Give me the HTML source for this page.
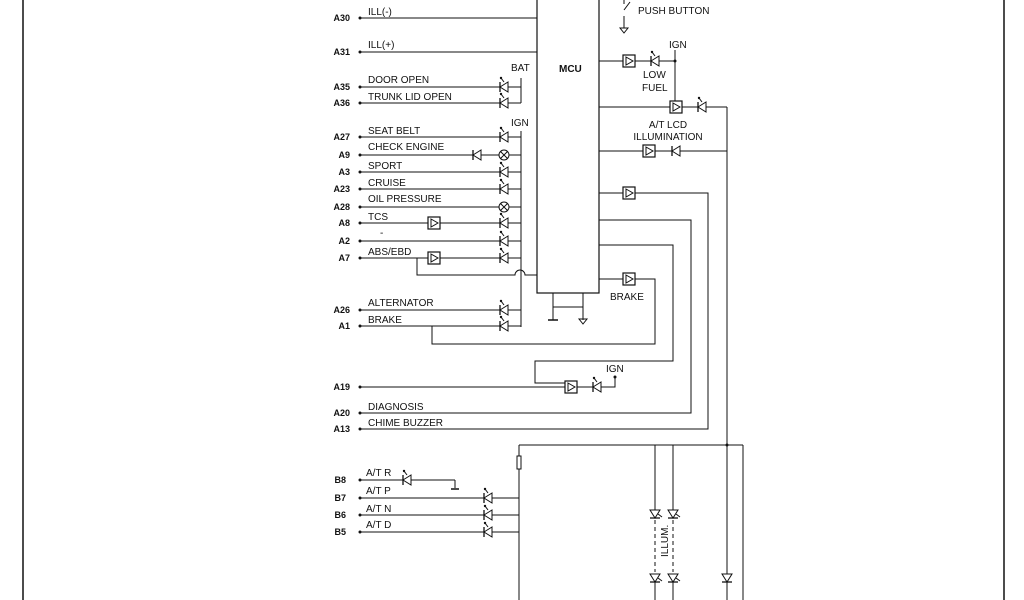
<!DOCTYPE html>
<html><head><meta charset="utf-8"><style>
html,body{margin:0;padding:0;background:#fff;width:1024px;height:600px;overflow:hidden}
svg{display:block}
text{font-family:"Liberation Sans",Arial,sans-serif;fill:#111}
.p{font-size:9px;font-weight:bold}
.l{font-size:10px}
</style></head><body>
<svg width="1024" height="600" viewBox="0 0 1024 600" xmlns="http://www.w3.org/2000/svg">
<defs>
<g id="led"><path d="M-4,0 L4,-5 L4,5 Z" fill="#fff" stroke="#111" stroke-width="1"/><line x1="-4" y1="-5" x2="-4" y2="5" stroke="#111" stroke-width="1.3"/><line x1="0" y1="-5" x2="-3" y2="-9" stroke="#111"/><circle cx="-3" cy="-9" r="1.2" fill="#111"/></g>
<g id="dio"><path d="M-4,0 L4,-5 L4,5 Z" fill="#fff" stroke="#111" stroke-width="1"/><line x1="-4" y1="-5" x2="-4" y2="5" stroke="#111" stroke-width="1.3"/></g>
<g id="amp"><rect x="-6" y="-6" width="12" height="12" fill="#fff" stroke="#111" stroke-width="1.2"/><path d="M-3,-4 L4,0 L-3,4 Z" fill="none" stroke="#111"/></g>
<g id="lamp"><circle r="5" fill="#fff" stroke="#111"/><line x1="-3.5" y1="-3.5" x2="3.5" y2="3.5" stroke="#111"/><line x1="-3.5" y1="3.5" x2="3.5" y2="-3.5" stroke="#111"/></g>
<g id="vled"><path d="M0,4 L-5,-4 L5,-4 Z" fill="#fff" stroke="#111"/><line x1="-5" y1="4" x2="5" y2="4" stroke="#111" stroke-width="1.3"/><line x1="3" y1="0" x2="7" y2="3" stroke="#111"/></g>
</defs>
<g stroke="#111" stroke-width="1" fill="none">
<line x1="23" y1="0" x2="23" y2="600" stroke-width="1.5"/>
<line x1="1004" y1="0" x2="1004" y2="600" stroke-width="1.5"/>
<!-- MCU -->
<rect x="537" y="-2" width="62" height="295" stroke-width="1.2"/>
<line x1="553" y1="293" x2="553" y2="320"/><line x1="583" y1="293" x2="583" y2="320"/>
<line x1="553" y1="307" x2="583" y2="307"/>
<line x1="548" y1="320" x2="558" y2="320" stroke-width="1.5"/>
<path d="M579,319 L587,319 L583,324 Z"/>
<!-- left lines -->
<line x1="360" y1="18" x2="537" y2="18"/>
<line x1="360" y1="52" x2="537" y2="52"/>
<line x1="360" y1="87" x2="521" y2="87"/><line x1="360" y1="103" x2="521" y2="103"/>
<line x1="521" y1="78" x2="521" y2="103"/>
<line x1="521" y1="131" x2="521" y2="327"/>
<line x1="360" y1="137" x2="521" y2="137"/>
<line x1="360" y1="155" x2="521" y2="155"/>
<line x1="360" y1="172" x2="521" y2="172"/>
<line x1="360" y1="189" x2="521" y2="189"/>
<line x1="360" y1="207" x2="521" y2="207"/>
<line x1="360" y1="223" x2="521" y2="223"/>
<line x1="360" y1="241" x2="521" y2="241"/>
<line x1="360" y1="258" x2="521" y2="258"/>
<path d="M417,258 L417,275 L515,275 A5,5 0 0 1 525,275 L537,275"/>
<line x1="360" y1="310" x2="521" y2="310"/>
<line x1="360" y1="326" x2="521" y2="326"/>
<path d="M432,326 L432,344 L655,344 L655,279 L599,279"/>
<line x1="360" y1="387" x2="604" y2="387"/>
<path d="M604,387 L615,387 L615,377"/>
<path d="M599,245 L673,245 L673,361 L535,361 L535,383 L565,383"/>
<path d="M360,413 L691,413 L691,220 L599,220"/>
<path d="M360,429 L708,429 L708,193 L599,193"/>
<!-- right top -->
<line x1="624" y1="0" x2="624" y2="4"/><line x1="624" y1="10" x2="630" y2="2"/><line x1="624" y1="16" x2="624" y2="28"/>
<path d="M620,28 L628,28 L624,33 Z"/>
<line x1="599" y1="61" x2="675" y2="61"/>
<line x1="675" y1="50" x2="675" y2="107"/>
<line x1="599" y1="107" x2="727" y2="107"/>
<line x1="727" y1="107" x2="727" y2="600"/>
<line x1="599" y1="151" x2="727" y2="151"/>
<!-- bottom -->
<line x1="519" y1="445" x2="743" y2="445"/>
<line x1="519" y1="445" x2="519" y2="600"/>
<rect x="517" y="456" width="4" height="13" fill="#fff"/>
<line x1="743" y1="445" x2="743" y2="600"/>
<line x1="655" y1="445" x2="655" y2="510"/><line x1="673" y1="445" x2="673" y2="510"/>
<line x1="655" y1="520" x2="655" y2="572" stroke-dasharray="4,3"/><line x1="673" y1="520" x2="673" y2="572" stroke-dasharray="4,3"/>
<line x1="655" y1="582" x2="655" y2="600"/><line x1="673" y1="582" x2="673" y2="600"/>
<line x1="360" y1="480" x2="455" y2="480"/><line x1="455" y1="480" x2="455" y2="488"/><line x1="451" y1="489" x2="459" y2="489" stroke-width="1.5"/>
<line x1="360" y1="498" x2="519" y2="498"/>
<line x1="360" y1="515" x2="519" y2="515"/>
<line x1="360" y1="532" x2="519" y2="532"/>
</g>
<g fill="#111">
<circle cx="360" cy="18" r="1.5"/><circle cx="360" cy="52" r="1.5"/><circle cx="360" cy="87" r="1.5"/><circle cx="360" cy="103" r="1.5"/>
<circle cx="360" cy="137" r="1.5"/><circle cx="360" cy="155" r="1.5"/><circle cx="360" cy="172" r="1.5"/><circle cx="360" cy="189" r="1.5"/>
<circle cx="360" cy="207" r="1.5"/><circle cx="360" cy="223" r="1.5"/><circle cx="360" cy="241" r="1.5"/><circle cx="360" cy="258" r="1.5"/>
<circle cx="360" cy="310" r="1.5"/><circle cx="360" cy="326" r="1.5"/><circle cx="360" cy="387" r="1.5"/><circle cx="360" cy="413" r="1.5"/>
<circle cx="360" cy="429" r="1.5"/><circle cx="360" cy="480" r="1.5"/><circle cx="360" cy="498" r="1.5"/><circle cx="360" cy="515" r="1.5"/><circle cx="360" cy="532" r="1.5"/>
<circle cx="727" cy="445" r="1.5"/><circle cx="675" cy="61" r="1.5"/><circle cx="615" cy="377" r="1.5"/>
</g>
<use href="#led" x="504" y="87"/><use href="#led" x="504" y="103"/>
<use href="#led" x="504" y="137"/><use href="#dio" x="477" y="155"/><use href="#lamp" x="504" y="155"/>
<use href="#led" x="504" y="172"/><use href="#led" x="504" y="189"/><use href="#lamp" x="504" y="207"/>
<use href="#amp" x="434" y="223"/><use href="#led" x="504" y="223"/><use href="#led" x="504" y="241"/>
<use href="#amp" x="434" y="258"/><use href="#led" x="504" y="258"/>
<use href="#led" x="504" y="310"/><use href="#led" x="504" y="326"/>
<use href="#amp" x="571" y="387"/><use href="#led" x="597" y="387"/>
<use href="#amp" x="629" y="61"/><use href="#led" x="655" y="61"/>
<use href="#amp" x="676" y="107"/><use href="#led" x="702" y="107"/>
<use href="#amp" x="649" y="151"/><use href="#dio" x="676" y="151"/>
<use href="#amp" x="629" y="193"/><use href="#amp" x="629" y="279"/>
<use href="#led" x="407" y="480"/><use href="#led" x="488" y="498"/><use href="#led" x="488" y="515"/><use href="#led" x="488" y="532"/>
<use href="#vled" x="655" y="514"/><use href="#vled" x="673" y="514"/><use href="#vled" x="655" y="578"/><use href="#vled" x="673" y="578"/>
<g><path d="M727,582 L722,574 L732,574 Z" fill="#fff" stroke="#111"/><line x1="722" y1="582" x2="732" y2="582" stroke="#111" stroke-width="1.3"/></g>
<g class="p" text-anchor="end">
<text x="350" y="21" class="p">A30</text><text x="350" y="55" class="p">A31</text>
<text x="350" y="90" class="p">A35</text><text x="350" y="106" class="p">A36</text>
<text x="350" y="140" class="p">A27</text><text x="350" y="158" class="p">A9</text>
<text x="350" y="175" class="p">A3</text><text x="350" y="192" class="p">A23</text>
<text x="350" y="210" class="p">A28</text><text x="350" y="226" class="p">A8</text>
<text x="350" y="244" class="p">A2</text><text x="350" y="261" class="p">A7</text>
<text x="350" y="313" class="p">A26</text><text x="350" y="329" class="p">A1</text>
<text x="350" y="390" class="p">A19</text><text x="350" y="416" class="p">A20</text>
<text x="350" y="432" class="p">A13</text>
<text x="346" y="483" class="p">B8</text><text x="346" y="501" class="p">B7</text>
<text x="346" y="518" class="p">B6</text><text x="346" y="535" class="p">B5</text>
</g>
<g class="l">
<text x="368" y="15" class="l">ILL(-)</text><text x="368" y="48" class="l">ILL(+)</text>
<text x="368" y="83" class="l">DOOR OPEN</text><text x="368" y="100" class="l">TRUNK LID OPEN</text>
<text x="368" y="134" class="l">SEAT BELT</text><text x="368" y="150" class="l">CHECK ENGINE</text>
<text x="368" y="169" class="l">SPORT</text><text x="368" y="186" class="l">CRUISE</text>
<text x="368" y="202" class="l">OIL PRESSURE</text><text x="368" y="220" class="l">TCS</text>
<text x="380" y="236" class="l">-</text><text x="368" y="255" class="l">ABS/EBD</text>
<text x="368" y="306" class="l">ALTERNATOR</text><text x="368" y="323" class="l">BRAKE</text>
<text x="368" y="410" class="l">DIAGNOSIS</text><text x="368" y="426" class="l">CHIME BUZZER</text>
<text x="366" y="476" class="l">A/T R</text><text x="366" y="494" class="l">A/T P</text>
<text x="366" y="512" class="l">A/T N</text><text x="366" y="528" class="l">A/T D</text>
<text x="511" y="71" class="l">BAT</text><text x="511" y="126" class="l">IGN</text>
<text x="559" y="72" class="l" font-weight="bold">MCU</text>
<text x="638" y="14" class="l">PUSH BUTTON</text>
<text x="669" y="48" class="l">IGN</text>
<text x="643" y="78" class="l">LOW</text><text x="642" y="91" class="l">FUEL</text>
<text x="668" y="128" class="l" text-anchor="middle">A/T LCD</text>
<text x="668" y="140" class="l" text-anchor="middle">ILLUMINATION</text>
<text x="610" y="300" class="l">BRAKE</text>
<text x="606" y="372" class="l">IGN</text>
<text x="0" y="0" class="l" transform="translate(668,557) rotate(-90)">ILLUM.</text>
</g>
</svg>
</body></html>
